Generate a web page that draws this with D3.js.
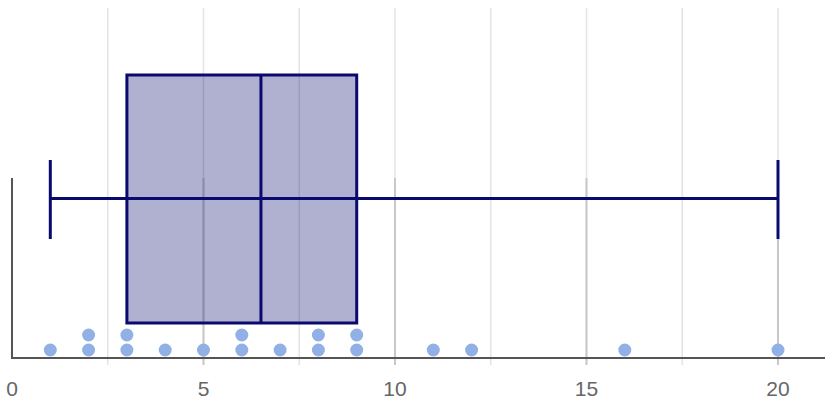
<!DOCTYPE html>
<html>
<head>
<meta charset="utf-8">
<script src="https://cdn.jsdelivr.net/npm/d3@7"></script>
<style>
  body { margin: 0; background: #fff; }
  svg { display: block; }
</style>
</head>
<body>
<div id="chart"></div>
<script>
// observations shown as the stacked dots
const values = [1, 2, 2, 3, 3, 4, 5, 6, 6, 7, 8, 8, 9, 9, 11, 12, 16, 20];
// box summary
const whiskerLow = 1;
const quartile1 = 3;
const median = 6.5;
const quartile3 = 9;
const whiskerHigh = 20;
// axis labels and grid
const tickLabels = [0, 5, 10, 15, 20];
const minorTicks = [2.5, 5, 7.5, 10, 12.5, 15, 17.5, 20];

const width = 825, height = 414;
const axisY = 358, plotTop = 178, gridTop = 8, tickBottom = 365;

const svg = d3.select("#chart").append("svg")
    .attr("width", width).attr("height", height);

const x = d3.scaleLinear().domain([0, 20]).range([12, 778]);
// stack level -> y for the dots
const yStack = d3.scaleLinear().domain([0, 1]).range([350, 335]);

// light grid every 2.5, full height
svg.append("g").selectAll("line").data(minorTicks).join("line")
    .attr("x1", d => x(d)).attr("x2", d => x(d))
    .attr("y1", gridTop).attr("y2", tickBottom)
    .attr("stroke", "#e4e4e4").attr("stroke-width", 1.5);

// darker major lines in the lower panel
svg.append("g").selectAll("line").data(tickLabels.filter(d => d > 0)).join("line")
    .attr("x1", d => x(d)).attr("x2", d => x(d))
    .attr("y1", plotTop).attr("y2", tickBottom)
    .attr("stroke", "#c8c8c8").attr("stroke-width", 2);

// box
const navy = "#0a0a6e";
svg.append("rect")
    .attr("x", x(quartile1)).attr("y", 75)
    .attr("width", x(quartile3) - x(quartile1)).attr("height", 323 - 75)
    .attr("fill", "#000066").attr("fill-opacity", 0.31)
    .attr("stroke", navy).attr("stroke-width", 3);

svg.append("line")
    .attr("x1", x(median)).attr("x2", x(median))
    .attr("y1", 75).attr("y2", 323)
    .attr("stroke", navy).attr("stroke-width", 3);

// whisker line and caps
svg.append("line")
    .attr("x1", x(whiskerLow)).attr("x2", x(whiskerHigh))
    .attr("y1", 198.5).attr("y2", 198.5)
    .attr("stroke", navy).attr("stroke-width", 3);

svg.append("g").selectAll("line").data([whiskerLow, whiskerHigh]).join("line")
    .attr("x1", d => x(d)).attr("x2", d => x(d))
    .attr("y1", 160).attr("y2", 239)
    .attr("stroke", navy).attr("stroke-width", 3);

// stacked dots
const seen = {};
const dots = values.map(v => {
    const level = seen[v] || 0;
    seen[v] = level + 1;
    return { value: v, level: level };
});
svg.append("g").selectAll("circle").data(dots).join("circle")
    .attr("cx", d => x(d.value))
    .attr("cy", d => yStack(d.level))
    .attr("r", 6.5)
    .attr("fill", "#91b0e6");

// axes lines
svg.append("line")
    .attr("x1", x(0)).attr("x2", width)
    .attr("y1", axisY).attr("y2", axisY)
    .attr("stroke", "#555").attr("stroke-width", 2);
svg.append("line")
    .attr("x1", x(0)).attr("x2", x(0))
    .attr("y1", plotTop).attr("y2", axisY + 1)
    .attr("stroke", "#555").attr("stroke-width", 2);

// tick labels
svg.append("g").selectAll("text").data(tickLabels).join("text")
    .attr("x", d => x(d)).attr("y", 396)
    .attr("text-anchor", "middle")
    .attr("font-family", "Liberation Sans, Arial, sans-serif")
    .attr("font-size", "21px")
    .attr("fill", "#666")
    .text(d => d);
</script>
</body>
</html>
